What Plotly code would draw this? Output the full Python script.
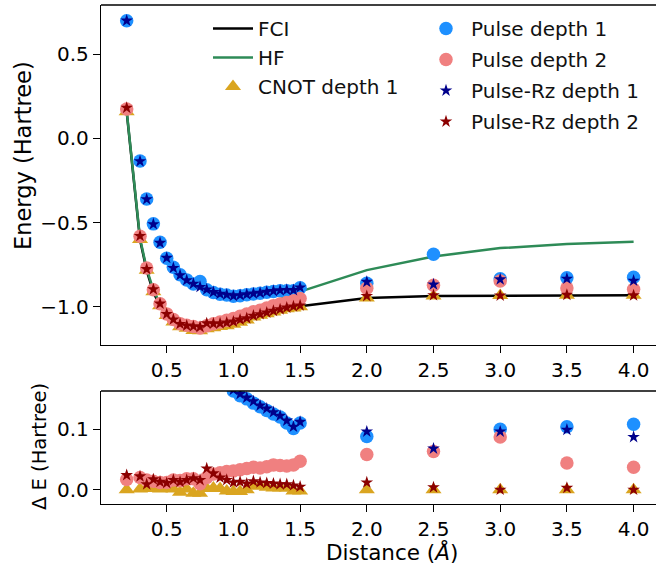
import plotly.graph_objects as go

# ---------------- data ----------------
distance = [0.2, 0.3, 0.35, 0.4, 0.45, 0.5, 0.55, 0.6, 0.65, 0.7, 0.75, 0.8, 0.85,
            0.9, 0.95, 1.0, 1.05, 1.1, 1.15, 1.2, 1.25, 1.3, 1.35, 1.4, 1.45, 1.5,
            2.0, 2.5, 3.0, 3.5, 4.0]

fci = [0.158, -0.602, -0.786, -0.914, -0.995, -1.055, -1.092, -1.116, -1.129, -1.136,
       -1.137, -1.134, -1.128, -1.120, -1.111, -1.101, -1.090, -1.079, -1.068, -1.057,
       -1.046, -1.035, -1.025, -1.015, -1.006, -0.998, -0.949, -0.936, -0.934, -0.933, -0.933]

hf = [0.163, -0.593, -0.775, -0.901, -0.981, -1.040, -1.076, -1.099, -1.111, -1.117,
      -1.116, -1.112, -1.104, -1.094, -1.082, -1.066, -1.051, -1.036, -1.020, -1.004,
      -0.988, -0.972, -0.956, -0.940, -0.925, -0.911, -0.783, -0.702, -0.652, -0.628, -0.615]

# energy errors relative to FCI (Hartree)
dE_cnot1 = [0.000, 0.001, 0.002, 0.002, 0.001, 0.002, 0.001, -0.004, 0.001, -0.006,
            -0.006, 0.002, 0.003, 0.002, -0.002, -0.003, -0.003, 0.000, 0.006, 0.006,
            0.004, 0.003, 0.003, 0.003, -0.002, -0.002, 0.000, 0.000, 0.000, 0.000, 0.000]

dE_pulse1 = [0.542, 0.468, 0.426, 0.406, 0.378, 0.343, 0.326, 0.305, 0.288, 0.271,
             0.286, 0.234, 0.212, 0.194, 0.180, 0.163, 0.155, 0.150, 0.143, 0.137,
             0.131, 0.125, 0.120, 0.110, 0.101, 0.110, 0.088, 0.248, 0.100, 0.104, 0.108]

dE_pulse2 = [0.017, 0.020, 0.016, 0.014, 0.012, 0.012, 0.016, 0.015, 0.018, 0.018,
             0.010, 0.020, 0.026, 0.028, 0.030, 0.031, 0.033, 0.035, 0.037, 0.036,
             0.038, 0.041, 0.040, 0.039, 0.041, 0.047, 0.058, 0.063, 0.087, 0.044, 0.037]

dE_pulserz1 = [0.542, 0.466, 0.424, 0.404, 0.374, 0.345, 0.322, 0.303, 0.286, 0.272,
               0.254, 0.236, 0.214, 0.196, 0.182, 0.165, 0.158, 0.152, 0.146, 0.139,
               0.134, 0.128, 0.122, 0.114, 0.104, 0.112, 0.096, 0.068, 0.096, 0.099, 0.087]

dE_pulserz2 = [0.024, 0.022, 0.009, 0.017, 0.013, 0.011, 0.016, 0.013, 0.016, 0.019,
               0.016, 0.035, 0.027, 0.020, 0.016, 0.012, 0.013, 0.010, 0.014, 0.012,
               0.011, 0.010, 0.009, 0.009, 0.007, 0.005, 0.012, 0.004, 0.000, 0.003, 0.000]

x_ticks = [0.5, 1.0, 1.5, 2.0, 2.5, 3.0, 3.5, 4.0]
y_ticks_top = [-1.0, -0.5, 0.0, 0.5]
y_ticks_bot = [0.0, 0.1]

# ---------------- figure ----------------
FONT = "DejaVu Sans"
W, H = 656, 573
L, R, T, B = 101, 0, 5, 69

def energy(dE):
    return [f + d for f, d in zip(fci, dE)]

series = [
    ("CNOT depth 1", dE_cnot1, "triangle-up", "#DAA520", 14, "legend"),
    ("Pulse depth 1", dE_pulse1, "circle", "#1E90FF", 13.5, "legend2"),
    ("Pulse depth 2", dE_pulse2, "circle", "#F08080", 13.5, "legend2"),
    ("Pulse-Rz depth 1", dE_pulserz1, "star", "#00008B", 9.5, "legend2"),
    ("Pulse-Rz depth 2", dE_pulserz2, "star", "#8B0000", 9.5, "legend2"),
]

fig = go.Figure()

fig.add_trace(go.Scatter(x=distance, y=fci, mode="lines", name="FCI",
                         line=dict(color="black", width=2.5),
                         xaxis="x", yaxis="y", legend="legend", legendgroup="fci"))
fig.add_trace(go.Scatter(x=distance, y=hf, mode="lines", name="HF",
                         line=dict(color="#2E8B57", width=2.5),
                         xaxis="x", yaxis="y", legend="legend", legendgroup="hf"))

for name, dE, sym, col, size, leg in series:
    fig.add_trace(go.Scatter(x=distance, y=energy(dE), mode="markers", name=name,
                             marker=dict(symbol=sym, color=col, size=size, line=dict(width=0)),
                             xaxis="x", yaxis="y", legend=leg, legendgroup=name))

for name, dE, sym, col, size, leg in series:
    fig.add_trace(go.Scatter(x=distance, y=dE, mode="markers", name=name,
                             marker=dict(symbol=sym, color=col, size=size, line=dict(width=0)),
                             xaxis="x2", yaxis="y2", showlegend=False))

plot_w = W - L - R
x_range = [0.0075, 0.0075 + plot_w / 133.4]

axis_common = dict(showgrid=False, zeroline=False, showline=True, linecolor="black",
                   linewidth=1.3, ticks="outside", ticklen=7, tickwidth=1.3,
                   tickcolor="black", tickfont=dict(family=FONT, size=20, color="black"))

top_dom = [(504 - 345) / 499, 1.0]
bot_dom = [0.0, (504 - 391) / 499]

fig.update_layout(
    width=W, height=H,
    margin=dict(l=L, r=R, t=T, b=B, autoexpand=False),
    paper_bgcolor="white", plot_bgcolor="white",
    font=dict(family=FONT, size=20, color="black"),
    xaxis=dict(domain=[0, 1], range=x_range, anchor="y", tickvals=x_ticks,
               tickformat=".1f", **axis_common),
    yaxis=dict(domain=top_dom, range=[-1.228, 0.793], anchor="x", tickvals=y_ticks_top,
               tickformat=".1f", **axis_common),
    xaxis2=dict(domain=[0, 1], range=x_range, anchor="y2", tickvals=x_ticks,
                tickformat=".1f", **axis_common),
    yaxis2=dict(domain=bot_dom, range=[-0.0236, 0.163], anchor="x2", tickvals=y_ticks_bot,
                tickformat=".1f", **axis_common),
    legend=dict(x=(208 - L) / plot_w, y=(504 - 9) / 499, xanchor="left", yanchor="top",
                bgcolor="rgba(0,0,0,0)", font=dict(family=FONT, size=20, color="#111"),
                tracegroupgap=0, itemwidth=40),
    legend2=dict(x=(421 - L) / plot_w, y=(504 - 9) / 499, xanchor="left", yanchor="top",
                 bgcolor="rgba(0,0,0,0)", font=dict(family=FONT, size=20, color="#111"),
                 tracegroupgap=2, itemwidth=40),
    showlegend=True,
)

# top spines
fig.add_shape(type="line", xref="x domain", yref="y domain", x0=0, x1=1, y0=1, y1=1,
              line=dict(color="black", width=1.3))
fig.add_shape(type="line", xref="x2 domain", yref="y2 domain", x0=0, x1=1, y0=1, y1=1,
              line=dict(color="black", width=1.3))

# axis titles
fig.add_annotation(text="Energy (Hartree)", xref="paper", yref="paper",
                   x=(23 - L) / plot_w, y=(504 - 156) / 499, textangle=-90,
                   showarrow=False, xanchor="center", yanchor="middle",
                   font=dict(family=FONT, size=22.5, color="black"))
fig.add_annotation(text="Δ E (Hartree)", xref="paper", yref="paper",
                   x=(39 - L) / plot_w, y=(504 - 447) / 499, textangle=-90,
                   showarrow=False, xanchor="center", yanchor="middle",
                   font=dict(family=FONT, size=19.5, color="black"))
fig.add_annotation(text="Distance (<i>Å</i>)", xref="paper", yref="paper",
                   x=(392 - L) / plot_w, y=(504 - 552) / 499,
                   showarrow=False, xanchor="center", yanchor="middle",
                   font=dict(family=FONT, size=21.5, color="black"))

fig.write_html("out.html", config={"displayModeBar": False},
               post_script="document.body.style.margin='0';document.body.style.padding='0';")
